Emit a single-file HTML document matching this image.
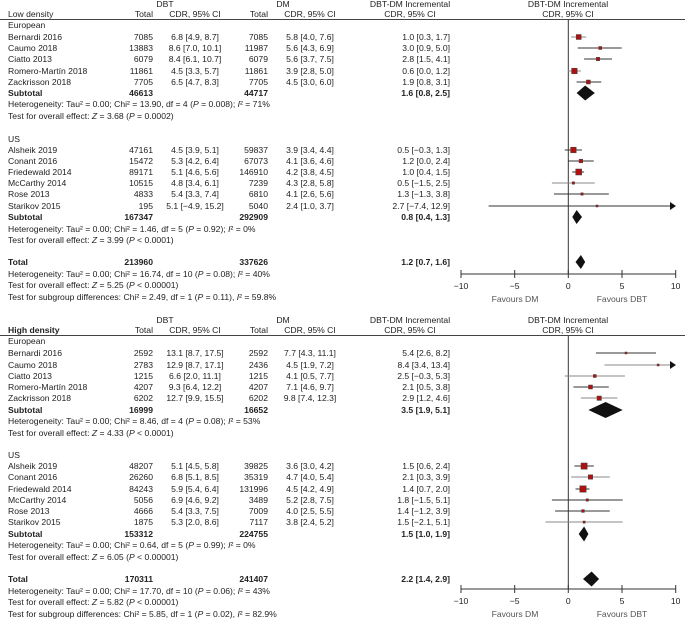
<!DOCTYPE html>
<html><head><meta charset="utf-8"><style>
body{margin:0;background:#fff}
svg text{font-family:"Liberation Sans",sans-serif;font-size:8.6px;fill:#222}
.b{font-weight:bold}
.r{text-anchor:end}.c{text-anchor:middle}
</style></head><body>
<svg width="685" height="620" xmlns="http://www.w3.org/2000/svg">
<!-- TOP PANEL -->
<text x="165" y="7" class="c">DBT</text><text x="283" y="7" class="c">DM</text>
<text x="410" y="7" class="c">DBT-DM Incremental</text><text x="568" y="7" class="c">DBT-DM Incremental</text>
<text x="8" y="17">Low density</text><text x="153" y="17" class="r">Total</text><text x="195" y="17" class="c">CDR, 95% CI</text>
<text x="268" y="17" class="r">Total</text><text x="310" y="17" class="c">CDR, 95% CI</text><text x="410" y="17" class="c">CDR, 95% CI</text><text x="568" y="17" class="c">CDR, 95% CI</text>
<line x1="0" y1="19.5" x2="685" y2="19.5" stroke="#444"/>
<text x="8" y="28">European</text>
<g>
<text x="8" y="40">Bernardi 2016</text><text x="153" y="40" class="r">7085</text><text x="195" y="40" class="c">6.8 [4.9, 8.7]</text><text x="268" y="40" class="r">7085</text><text x="310" y="40" class="c">5.8 [4.0, 7.6]</text><text x="450" y="40" class="r">1.0 [0.3, 1.7]</text>
<text x="8" y="51">Caumo 2018</text><text x="153" y="51" class="r">13883</text><text x="195" y="51" class="c">8.6 [7.0, 10.1]</text><text x="268" y="51" class="r">11987</text><text x="310" y="51" class="c">5.6 [4.3, 6.9]</text><text x="450" y="51" class="r">3.0 [0.9, 5.0]</text>
<text x="8" y="62">Ciatto 2013</text><text x="153" y="62" class="r">6079</text><text x="195" y="62" class="c">8.4 [6.1, 10.7]</text><text x="268" y="62" class="r">6079</text><text x="310" y="62" class="c">5.6 [3.7, 7.5]</text><text x="450" y="62" class="r">2.8 [1.5, 4.1]</text>
<text x="8" y="74">Romero-Martín 2018</text><text x="153" y="74" class="r">11861</text><text x="195" y="74" class="c">4.5 [3.3, 5.7]</text><text x="268" y="74" class="r">11861</text><text x="310" y="74" class="c">3.9 [2.8, 5.0]</text><text x="450" y="74" class="r">0.6 [0.0, 1.2]</text>
<text x="8" y="85">Zackrisson 2018</text><text x="153" y="85" class="r">7705</text><text x="195" y="85" class="c">6.5 [4.7, 8.3]</text><text x="268" y="85" class="r">7705</text><text x="310" y="85" class="c">4.5 [3.0, 6.0]</text><text x="450" y="85" class="r">1.9 [0.8, 3.1]</text>
<text x="8" y="96" class="b">Subtotal</text><text x="153" y="96" class="r b">46613</text><text x="268" y="96" class="r b">44717</text><text x="450" y="96" class="r b">1.6 [0.8, 2.5]</text>
<text x="8" y="107">Heterogeneity: Tau² = 0.00; Chi² = 13.90, df = 4 (<tspan font-style="italic">P</tspan> = 0.008); <tspan font-style="italic">I</tspan>² = 71%</text>
<text x="8" y="119">Test for overall effect: <tspan font-style="italic">Z</tspan> = 3.68 (<tspan font-style="italic">P</tspan> = 0.0002)</text>
<text x="8" y="142">US</text>
<text x="8" y="153">Alsheik 2019</text><text x="153" y="153" class="r">47161</text><text x="195" y="153" class="c">4.5 [3.9, 5.1]</text><text x="268" y="153" class="r">59837</text><text x="310" y="153" class="c">3.9 [3.4, 4.4]</text><text x="450" y="153" class="r">0.5 [−0.3, 1.3]</text>
<text x="8" y="164">Conant 2016</text><text x="153" y="164" class="r">15472</text><text x="195" y="164" class="c">5.3 [4.2, 6.4]</text><text x="268" y="164" class="r">67073</text><text x="310" y="164" class="c">4.1 [3.6, 4.6]</text><text x="450" y="164" class="r">1.2 [0.0, 2.4]</text>
<text x="8" y="175">Friedewald 2014</text><text x="153" y="175" class="r">89171</text><text x="195" y="175" class="c">5.1 [4.6, 5.6]</text><text x="268" y="175" class="r">146910</text><text x="310" y="175" class="c">4.2 [3.8, 4.5]</text><text x="450" y="175" class="r">1.0 [0.4, 1.5]</text>
<text x="8" y="186">McCarthy 2014</text><text x="153" y="186" class="r">10515</text><text x="195" y="186" class="c">4.8 [3.4, 6.1]</text><text x="268" y="186" class="r">7239</text><text x="310" y="186" class="c">4.3 [2.8, 5.8]</text><text x="450" y="186" class="r">0.5 [−1.5, 2.5]</text>
<text x="8" y="197">Rose 2013</text><text x="153" y="197" class="r">4833</text><text x="195" y="197" class="c">5.4 [3.3, 7.4]</text><text x="268" y="197" class="r">6810</text><text x="310" y="197" class="c">4.1 [2.6, 5.6]</text><text x="450" y="197" class="r">1.3 [−1.3, 3.8]</text>
<text x="8" y="209">Starikov 2015</text><text x="153" y="209" class="r">195</text><text x="195" y="209" class="c">5.1 [−4.9, 15.2]</text><text x="268" y="209" class="r">5040</text><text x="310" y="209" class="c">2.4 [1.0, 3.7]</text><text x="450" y="209" class="r">2.7 [−7.4, 12.9]</text>
<text x="8" y="220" class="b">Subtotal</text><text x="153" y="220" class="r b">167347</text><text x="268" y="220" class="r b">292909</text><text x="450" y="220" class="r b">0.8 [0.4, 1.3]</text>
<text x="8" y="232">Heterogeneity: Tau² = 0.00; Chi² = 1.46, df = 5 (<tspan font-style="italic">P</tspan> = 0.92); <tspan font-style="italic">I</tspan>² = 0%</text>
<text x="8" y="243">Test for overall effect: <tspan font-style="italic">Z</tspan> = 3.99 (<tspan font-style="italic">P</tspan> &lt; 0.0001)</text>
<text x="8" y="265" class="b">Total</text><text x="153" y="265" class="r b">213960</text><text x="268" y="265" class="r b">337626</text><text x="450" y="265" class="r b">1.2 [0.7, 1.6]</text>
<text x="8" y="277">Heterogeneity: Tau² = 0.00; Chi² = 16.74, df = 10 (<tspan font-style="italic">P</tspan> = 0.08); <tspan font-style="italic">I</tspan>² = 40%</text>
<text x="8" y="288">Test for overall effect: <tspan font-style="italic">Z</tspan> = 5.25 (<tspan font-style="italic">P</tspan> &lt; 0.00001)</text>
<text x="8" y="300">Test for subgroup differences: Chi² = 2.49, df = 1 (<tspan font-style="italic">P</tspan> = 0.11), <tspan font-style="italic">I</tspan>² = 59.8%</text>
</g>
<!-- top plot -->
<g stroke="#333" stroke-width="1" fill="none">
<line x1="568.3" y1="19.5" x2="568.3" y2="274"/>
<line x1="461" y1="274" x2="675.7" y2="274"/>
<line x1="461" y1="270" x2="461" y2="278"/><line x1="514.7" y1="270" x2="514.7" y2="278"/><line x1="568.3" y1="270" x2="568.3" y2="278"/><line x1="622" y1="270" x2="622" y2="278"/><line x1="675.7" y1="270" x2="675.7" y2="278"/>
<line x1="571.2" y1="37" x2="586.2" y2="37" stroke="#888"/>
<line x1="577.7" y1="48" x2="621.7" y2="48"/>
<line x1="584.1" y1="59" x2="612" y2="59"/>
<line x1="568" y1="71" x2="580.9" y2="71" stroke="#888"/>
<line x1="576.6" y1="82" x2="601.3" y2="82"/>
<line x1="564.8" y1="150" x2="582" y2="150"/>
<line x1="568" y1="161" x2="593.8" y2="161"/>
<line x1="572.3" y1="172" x2="584.1" y2="172"/>
<line x1="551.9" y1="183" x2="594.8" y2="183" stroke="#888"/>
<line x1="554" y1="194" x2="608.8" y2="194"/>
<line x1="488.6" y1="206" x2="673" y2="206"/>
</g>
<g fill="#b01010" stroke="#444" stroke-width="0.5">
<rect x="576.2" y="34.5" width="5" height="5"/>
<rect x="598.7" y="46.5" width="3" height="3"/>
<rect x="596.3" y="57.3" width="3.4" height="3.4"/>
<rect x="571.6" y="68.2" width="5.6" height="5.6"/>
<rect x="586.4" y="80" width="4" height="4"/>
<rect x="570.6" y="147.2" width="5.6" height="5.6"/>
<rect x="579.1" y="159.2" width="3.6" height="3.6"/>
<rect x="575.7" y="169" width="6" height="6"/>
<rect x="572.2" y="181.8" width="2.4" height="2.4"/>
<rect x="580.8" y="192.8" width="2.4" height="2.4"/>
<rect x="596" y="205" width="2" height="2"/>
</g>
<g fill="#111">
<polygon points="676,206 670,202 670,210"/>
<polygon points="576.6,93 585.2,85.5 594.8,93 585.2,100.5"/>
<polygon points="572.3,217 576.6,210 582,217 576.6,224"/>
<polygon points="575.5,262 580.9,255 585.2,262 580.9,269"/>
</g>
<text x="461" y="289" class="c">−10</text><text x="514.7" y="289" class="c">−5</text><text x="568.3" y="289" class="c">0</text><text x="622" y="289" class="c">5</text><text x="675.7" y="289" class="c">10</text>
<text x="515" y="302" class="c" style="fill:#555">Favours DM</text><text x="622" y="302" class="c" style="fill:#555">Favours DBT</text>

<!-- BOTTOM PANEL -->
<text x="165" y="323" class="c">DBT</text><text x="283" y="323" class="c">DM</text>
<text x="410" y="323" class="c">DBT-DM Incremental</text><text x="568" y="323" class="c">DBT-DM Incremental</text>
<text x="8" y="333" class="b">High density</text><text x="153" y="333" class="r">Total</text><text x="195" y="333" class="c">CDR, 95% CI</text>
<text x="268" y="333" class="r">Total</text><text x="310" y="333" class="c">CDR, 95% CI</text><text x="410" y="333" class="c">CDR, 95% CI</text><text x="568" y="333" class="c">CDR, 95% CI</text>
<line x1="0" y1="335.5" x2="685" y2="335.5" stroke="#444"/>
<text x="8" y="344">European</text>
<text x="8" y="356">Bernardi 2016</text><text x="153" y="356" class="r">2592</text><text x="195" y="356" class="c">13.1 [8.7, 17.5]</text><text x="268" y="356" class="r">2592</text><text x="310" y="356" class="c">7.7 [4.3, 11.1]</text><text x="450" y="356" class="r">5.4 [2.6, 8.2]</text>
<text x="8" y="368">Caumo 2018</text><text x="153" y="368" class="r">2783</text><text x="195" y="368" class="c">12.9 [8.7, 17.1]</text><text x="268" y="368" class="r">2436</text><text x="310" y="368" class="c">4.5 [1.9, 7.2]</text><text x="450" y="368" class="r">8.4 [3.4, 13.4]</text>
<text x="8" y="379">Ciatto 2013</text><text x="153" y="379" class="r">1215</text><text x="195" y="379" class="c">6.6 [2.0, 11.1]</text><text x="268" y="379" class="r">1215</text><text x="310" y="379" class="c">4.1 [0.5, 7.7]</text><text x="450" y="379" class="r">2.5 [−0.3, 5.3]</text>
<text x="8" y="390">Romero-Martín 2018</text><text x="153" y="390" class="r">4207</text><text x="195" y="390" class="c">9.3 [6.4, 12.2]</text><text x="268" y="390" class="r">4207</text><text x="310" y="390" class="c">7.1 [4.6, 9.7]</text><text x="450" y="390" class="r">2.1 [0.5, 3.8]</text>
<text x="8" y="401">Zackrisson 2018</text><text x="153" y="401" class="r">6202</text><text x="195" y="401" class="c">12.7 [9.9, 15.5]</text><text x="268" y="401" class="r">6202</text><text x="310" y="401" class="c">9.8 [7.4, 12.3]</text><text x="450" y="401" class="r">2.9 [1.2, 4.6]</text>
<text x="8" y="413" class="b">Subtotal</text><text x="153" y="413" class="r b">16999</text><text x="268" y="413" class="r b">16652</text><text x="450" y="413" class="r b">3.5 [1.9, 5.1]</text>
<text x="8" y="424">Heterogeneity: Tau² = 0.00; Chi² = 8.46, df = 4 (<tspan font-style="italic">P</tspan> = 0.08); <tspan font-style="italic">I</tspan>² = 53%</text>
<text x="8" y="436">Test for overall effect: <tspan font-style="italic">Z</tspan> = 4.33 (<tspan font-style="italic">P</tspan> &lt; 0.0001)</text>
<text x="8" y="458">US</text>
<text x="8" y="469">Alsheik 2019</text><text x="153" y="469" class="r">48207</text><text x="195" y="469" class="c">5.1 [4.5, 5.8]</text><text x="268" y="469" class="r">39825</text><text x="310" y="469" class="c">3.6 [3.0, 4.2]</text><text x="450" y="469" class="r">1.5 [0.6, 2.4]</text>
<text x="8" y="480">Conant 2016</text><text x="153" y="480" class="r">26260</text><text x="195" y="480" class="c">6.8 [5.1, 8.5]</text><text x="268" y="480" class="r">35319</text><text x="310" y="480" class="c">4.7 [4.0, 5.4]</text><text x="450" y="480" class="r">2.1 [0.3, 3.9]</text>
<text x="8" y="492">Friedewald 2014</text><text x="153" y="492" class="r">84243</text><text x="195" y="492" class="c">5.9 [5.4, 6.4]</text><text x="268" y="492" class="r">131996</text><text x="310" y="492" class="c">4.5 [4.2, 4.9]</text><text x="450" y="492" class="r">1.4 [0.7, 2.0]</text>
<text x="8" y="503">McCarthy 2014</text><text x="153" y="503" class="r">5056</text><text x="195" y="503" class="c">6.9 [4.6, 9.2]</text><text x="268" y="503" class="r">3489</text><text x="310" y="503" class="c">5.2 [2.8, 7.5]</text><text x="450" y="503" class="r">1.8 [−1.5, 5.1]</text>
<text x="8" y="514">Rose 2013</text><text x="153" y="514" class="r">4666</text><text x="195" y="514" class="c">5.4 [3.3, 7.5]</text><text x="268" y="514" class="r">7009</text><text x="310" y="514" class="c">4.0 [2.5, 5.5]</text><text x="450" y="514" class="r">1.4 [−1.2, 3.9]</text>
<text x="8" y="525">Starikov 2015</text><text x="153" y="525" class="r">1875</text><text x="195" y="525" class="c">5.3 [2.0, 8.6]</text><text x="268" y="525" class="r">7117</text><text x="310" y="525" class="c">3.8 [2.4, 5.2]</text><text x="450" y="525" class="r">1.5 [−2.1, 5.1]</text>
<text x="8" y="537" class="b">Subtotal</text><text x="153" y="537" class="r b">153312</text><text x="268" y="537" class="r b">224755</text><text x="450" y="537" class="r b">1.5 [1.0, 1.9]</text>
<text x="8" y="548">Heterogeneity: Tau² = 0.00; Chi² = 0.64, df = 5 (<tspan font-style="italic">P</tspan> = 0.99); <tspan font-style="italic">I</tspan>² = 0%</text>
<text x="8" y="560">Test for overall effect: <tspan font-style="italic">Z</tspan> = 6.05 (<tspan font-style="italic">P</tspan> &lt; 0.00001)</text>
<text x="8" y="582" class="b">Total</text><text x="153" y="582" class="r b">170311</text><text x="268" y="582" class="r b">241407</text><text x="450" y="582" class="r b">2.2 [1.4, 2.9]</text>
<text x="8" y="594">Heterogeneity: Tau² = 0.00; Chi² = 17.70, df = 10 (<tspan font-style="italic">P</tspan> = 0.06); <tspan font-style="italic">I</tspan>² = 43%</text>
<text x="8" y="605">Test for overall effect: <tspan font-style="italic">Z</tspan> = 5.82 (<tspan font-style="italic">P</tspan> &lt; 0.00001)</text>
<text x="8" y="617">Test for subgroup differences: Chi² = 5.85, df = 1 (<tspan font-style="italic">P</tspan> = 0.02), <tspan font-style="italic">I</tspan>² = 82.9%</text>
<g stroke="#333" stroke-width="1" fill="none">
<line x1="568.3" y1="335.5" x2="568.3" y2="589"/>
<line x1="461" y1="589" x2="675.7" y2="589"/>
<line x1="461" y1="585" x2="461" y2="593"/><line x1="514.7" y1="585" x2="514.7" y2="593"/><line x1="568.3" y1="585" x2="568.3" y2="593"/><line x1="622" y1="585" x2="622" y2="593"/><line x1="675.7" y1="585" x2="675.7" y2="593"/>
<line x1="595.9" y1="353" x2="656" y2="353"/>
<line x1="604.5" y1="365" x2="673" y2="365" stroke="#888"/>
<line x1="564.8" y1="376" x2="624.9" y2="376" stroke="#888"/>
<line x1="573.4" y1="387" x2="608.8" y2="387"/>
<line x1="580.9" y1="398" x2="617.4" y2="398" stroke="#888"/>
<line x1="574.4" y1="466" x2="593.8" y2="466"/>
<line x1="571.2" y1="477" x2="609.8" y2="477" stroke="#888"/>
<line x1="575.5" y1="489" x2="589.5" y2="489"/>
<line x1="551.9" y1="500" x2="622.7" y2="500"/>
<line x1="555.1" y1="511" x2="609.8" y2="511"/>
<line x1="545.5" y1="522" x2="622.7" y2="522" stroke="#888"/>
</g>
<g fill="#b01010" stroke="#444" stroke-width="0.5">
<rect x="625" y="352" width="2" height="2"/>
<rect x="657.1" y="364" width="2" height="2"/>
<rect x="593.3" y="374.5" width="3" height="3"/>
<rect x="588.5" y="385" width="4" height="4"/>
<rect x="597" y="396" width="4.4" height="4.4"/>
<rect x="581" y="463" width="6.2" height="6.2"/>
<rect x="588.3" y="474.8" width="4.4" height="4.4"/>
<rect x="579.8" y="485.8" width="6.4" height="6.4"/>
<rect x="586.1" y="498.8" width="2.4" height="2.4"/>
<rect x="581.6" y="509.6" width="2.8" height="2.8"/>
<rect x="583" y="521" width="2.2" height="2.2"/>
</g>
<g fill="#111">
<polygon points="676,365 670,361 670,369"/>
<polygon points="588.4,410 605.6,402 622.7,410 605.6,418"/>
<polygon points="578.7,534 584.1,526.5 588.4,534 584.1,541.5"/>
<polygon points="583,579 591.6,571.5 599.1,579 591.6,586.5"/>
</g>
<text x="461" y="604" class="c">−10</text><text x="514.7" y="604" class="c">−5</text><text x="568.3" y="604" class="c">0</text><text x="622" y="604" class="c">5</text><text x="675.7" y="604" class="c">10</text>
<text x="515" y="617" class="c" style="fill:#555">Favours DM</text><text x="622" y="617" class="c" style="fill:#555">Favours DBT</text>
</svg>
</body></html>
